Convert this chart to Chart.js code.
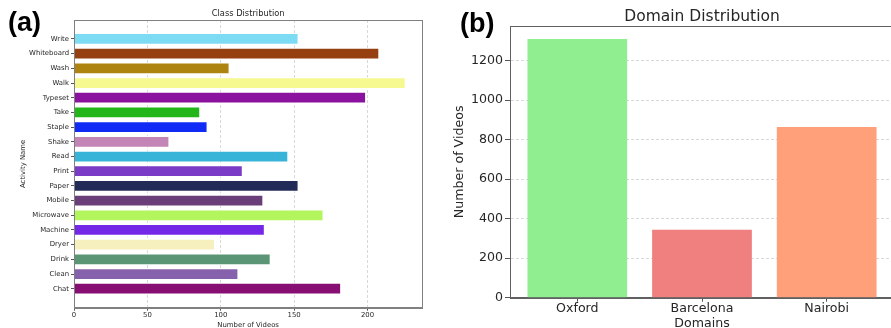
<!DOCTYPE html>
<html>
<head>
<meta charset="utf-8">
<script src="https://cdn.jsdelivr.net/npm/chart.js@4/dist/chart.umd.min.js"></script>
<style>
    html, body { margin: 0; padding: 0; background: #fff; overflow: hidden; }
    body { width: 891px; height: 328px; position: relative; }
    .panel { position: absolute; top: 0; }
    .tag {
        position: absolute;
        font-family: 'Liberation Sans', Arial, sans-serif;
        font-weight: bold;
        font-size: 27px;
        line-height: 1;
        color: #000;
    }
</style>
</head>
<body>
<div class="panel" style="left:0;width:440px;height:328px">
    <canvas id="class-chart" width="440" height="328"></canvas>
</div>
<div class="panel" style="left:440px;width:470px;height:328px">
    <canvas id="domain-chart" width="470" height="328"></canvas>
</div>
<div class="tag" style="left:8px;top:9px">(a)</div>
<div class="tag" style="left:460px;top:10px">(b)</div>

<script>
// Dados: distribuição de classes (de baixo para cima)
const activityNames = ['Chat', 'Clean', 'Drink', 'Dryer', 'Machine', 'Microwave', 'Mobile', 'Paper', 'Print',
    'Read', 'Shake', 'Staple', 'Take', 'Typeset', 'Walk', 'Wash', 'Whiteboard', 'Write'];
const activityCounts = [182, 112, 134, 96, 130, 170, 129, 153, 115, 146, 65, 91, 86, 199, 226, 106, 208, 153];
const activityColors = ['#870e72', '#8661ac', '#5a9576', '#f6efbe', '#7427e6', '#b2f55c', '#6a3e78', '#222b58',
    '#7a3cc6', '#38b4d8', '#c385b5', '#0f2bf5', '#22b61a', '#8a129e', '#f5f990', '#ad8410', '#963f10', '#7ddcf4'];
const classTicks = [0, 50, 100, 150, 200];

// Dados: distribuição de domínios
const domainNames = ['Oxford', 'Barcelona', 'Nairobi'];
const domainCounts = [1310, 344, 864];
const domainColors = ['#90ee90', '#f08080', '#ffa07a'];
const domainTicks = [0, 200, 400, 600, 800, 1000, 1200];

const FONT = "'DejaVu Sans', sans-serif";
const TEXT = '#262626';
const GRID = 'rgba(200,200,200,0.7)';

// moldura do eixo (estilo matplotlib)
const framePlugin = {
    id: 'frame',
    afterDraw(chart, args, opts) {
        const { ctx, chartArea: a } = chart;
        ctx.save();
        ctx.strokeStyle = opts.color || '#666';
        ctx.lineWidth = 1;
        ctx.strokeRect(Math.round(a.left) + 0.5, Math.round(a.top) + 0.5,
            Math.round(a.width), Math.round(a.height));
        ctx.restore();
    }
};

/**
 * Gráfico (a): barras horizontais
 */
function createClassChart() {
    const ctx = document.getElementById('class-chart');
    const n = activityNames.length;
    const ySpan = (n - 1) + 0.8;
    const xMax = Math.max(...activityCounts) * 1.05;

    new Chart(ctx, {
        type: 'bar',
        data: {
            datasets: [{
                data: activityCounts.map((v, i) => ({ x: v, y: i })),
                backgroundColor: activityColors,
                borderColor: 'rgba(255,255,255,0.85)',
                borderWidth: 1,
                borderSkipped: 'start',
                categoryPercentage: 1,
                barPercentage: 0.8
            }]
        },
        plugins: [framePlugin],
        options: {
            indexAxis: 'y',
            responsive: false,
            animation: false,
            layout: { padding: { left: 0, right: 17.7, top: 0, bottom: 0 } },
            plugins: {
                legend: { display: false },
                tooltip: { enabled: false },
                frame: { color: '#808080' },
                title: {
                    display: true,
                    text: 'Class Distribution',
                    fullSize: false,
                    color: TEXT,
                    font: { family: FONT, size: 8.3, weight: 'normal', lineHeight: 1.2 },
                    padding: { top: 9.3, bottom: 0.74 }
                }
            },
            scales: {
                x: {
                    type: 'linear',
                    min: 0,
                    max: xMax,
                    afterBuildTicks: s => { s.ticks = classTicks.map(v => ({ value: v })); },
                    afterFit: s => { s.height = 20.3; },
                    ticks: {
                        color: TEXT,
                        padding: 0.9,
                        maxRotation: 0,
                        font: { family: FONT, size: 6.9, lineHeight: 1 },
                        callback: v => String(v)
                    },
                    grid: {
                        color: GRID,
                        tickColor: '#555',
                        tickLength: 3
                    },
                    border: { color: '#808080', dash: [3, 2] },
                    title: {
                        display: true,
                        text: 'Number of Videos',
                        color: TEXT,
                        font: { family: FONT, size: 6.9, lineHeight: 1.2 },
                        padding: { top: 0, bottom: -1.1 }
                    }
                },
                y: {
                    type: 'linear',
                    offset: false,
                    min: -0.4 - ySpan * 0.05,
                    max: (n - 1) + 0.4 + ySpan * 0.05,
                    afterBuildTicks: s => { s.ticks = activityNames.map((_, i) => ({ value: i })); },
                    afterFit: s => { s.width = 74; },
                    ticks: {
                        color: TEXT,
                        padding: 2,
                        font: { family: FONT, size: 6.9 },
                        callback: v => activityNames[v]
                    },
                    grid: {
                        offset: false,
                        drawOnChartArea: false,
                        tickColor: '#555',
                        tickLength: 3
                    },
                    border: { color: '#808080' },
                    title: {
                        display: true,
                        text: 'Activity Name',
                        color: TEXT,
                        font: { family: FONT, size: 6.9, lineHeight: 1.2 },
                        padding: { top: 19.2, bottom: 0 }
                    }
                }
            }
        }
    });
}

/**
 * Gráfico (b): barras verticais
 */
function createDomainChart() {
    const ctx = document.getElementById('domain-chart');
    const n = domainNames.length;
    const xSpan = (n - 1) + 0.8;
    const yMax = Math.max(...domainCounts) * 1.05;

    new Chart(ctx, {
        type: 'bar',
        data: {
            datasets: [{
                data: domainCounts.map((v, i) => ({ x: i, y: v })),
                backgroundColor: domainColors,
                borderWidth: 0,
                categoryPercentage: 1,
                barPercentage: 0.8
            }]
        },
        plugins: [framePlugin],
        options: {
            responsive: false,
            animation: false,
            layout: { padding: { left: 0, right: 16, top: 0, bottom: 0 } },
            plugins: {
                legend: { display: false },
                tooltip: { enabled: false },
                frame: { color: '#606060' },
                title: {
                    display: true,
                    text: 'Domain Distribution',
                    fullSize: false,
                    color: TEXT,
                    font: { family: FONT, size: 15.5, weight: 'normal', lineHeight: 1.2 },
                    padding: { top: 7.4, bottom: 0 }
                }
            },
            scales: {
                x: {
                    type: 'linear',
                    offset: false,
                    min: -0.4 - xSpan * 0.05,
                    max: (n - 1) + 0.4 + xSpan * 0.05,
                    afterBuildTicks: s => { s.ticks = domainNames.map((_, i) => ({ value: i })); },
                    afterFit: s => { s.height = 30.3; },
                    ticks: {
                        color: TEXT,
                        padding: 0.5,
                        maxRotation: 0,
                        font: { family: FONT, size: 12.6, lineHeight: 1 },
                        callback: v => domainNames[v]
                    },
                    grid: {
                        offset: false,
                        drawOnChartArea: false,
                        tickColor: '#555',
                        tickLength: 4
                    },
                    border: { color: '#606060' },
                    title: {
                        display: true,
                        text: 'Domains',
                        color: TEXT,
                        font: { family: FONT, size: 12.6, lineHeight: 1 },
                        padding: { top: 0, bottom: -1.6 }
                    }
                },
                y: {
                    type: 'linear',
                    min: 0,
                    max: yMax,
                    afterBuildTicks: s => { s.ticks = domainTicks.map(v => ({ value: v })); },
                    afterFit: s => { s.width = 70; },
                    ticks: {
                        color: TEXT,
                        padding: 2,
                        font: { family: FONT, size: 12.6 },
                        callback: v => String(v)
                    },
                    grid: {
                        color: GRID,
                        tickColor: '#555',
                        tickLength: 5
                    },
                    border: { color: '#606060', dash: [3, 2] },
                    title: {
                        display: true,
                        text: 'Number of Videos',
                        color: TEXT,
                        font: { family: FONT, size: 12.6, lineHeight: 1.2 },
                        padding: { top: 12.4, bottom: 0 }
                    }
                }
            }
        }
    });
}

createClassChart();
createDomainChart();
</script>
</body>
</html>
